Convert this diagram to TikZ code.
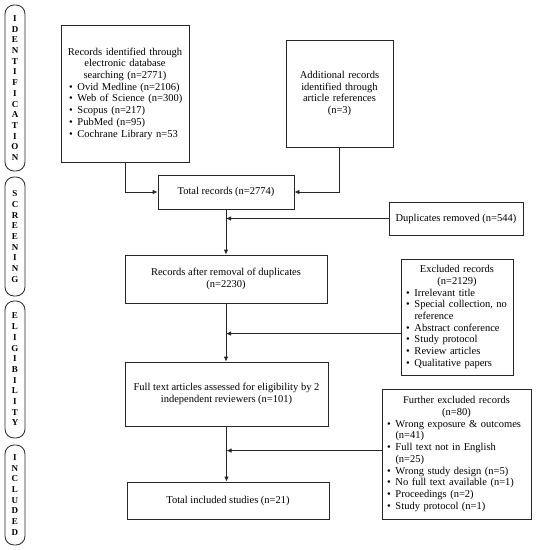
\documentclass[tikz,border=0pt]{standalone}
\usepackage{fontspec}
\setmainfont{Liberation Serif}
\usetikzlibrary{arrows.meta,calc}
\newlength{\bind}
\setlength{\bind}{8.5pt}
\newcommand{\bitem}[1]{\par\noindent\hangindent=\bind\hangafter=1\makebox[\bind][l]{\textbullet}#1}
\begin{document}
\begin{tikzpicture}[x=1pt,y=-1pt,
  box/.style={draw=black!85,line width=0.8pt,inner sep=0pt,font=\fontsize{10.5}{11.7}\selectfont},
  side/.style={draw=black!85,line width=0.8pt,rounded corners=9pt,minimum width=20pt,inner sep=0pt,align=center,font=\fontsize{9}{10.7}\selectfont\bfseries},
  arr/.style={draw=black!85,line width=0.8pt,-{Latex[length=5pt,width=4.5pt]}},
  ln/.style={draw=black!85,line width=0.8pt}]
\useasboundingbox (0,0) rectangle (536,550);
% side labels
\node[side,minimum height=166pt] (sid) at (15,88) {I\\D\\E\\N\\T\\I\\F\\I\\C\\A\\T\\I\\O\\N};
\node[side,minimum height=119pt] (sscr) at (15,236.5) {S\\C\\R\\E\\E\\N\\I\\N\\G};
\node[side,minimum height=137pt] (selig) at (15,369.5) {E\\L\\I\\G\\I\\B\\I\\L\\I\\T\\Y};
\node[side,minimum height=100pt] (sincl) at (15,495) {I\\N\\C\\L\\U\\D\\E\\D};
% boxes
\node[box,minimum width=128pt,minimum height=137pt,text width=116pt] (A) at (125,93.5)
 {\centering Records identified through\\electronic database\\searching (n=2771)\par\raggedright\leftskip=2pt
  \bitem{Ovid Medline (n=2106)}\bitem{Web of Science (n=300)}\bitem{Scopus (n=217)}\bitem{PubMed (n=95)}\bitem{Cochrane Library n=53}\par};
\node[box,minimum width=107pt,minimum height=107pt,text width=100pt,align=center] (B) at (339.5,93.5)
 {Additional records\\identified through\\article references\\(n=3)};
\node[box,minimum width=136pt,minimum height=34pt] (total) at (226,192) {Total records (n=2774)};
\node[box,minimum width=134pt,minimum height=33pt] (dup) at (456,218.5) {Duplicates removed (n=544)};
\node[box,minimum width=202pt,minimum height=48pt,align=center] (rec) at (226,279) {Records after removal of duplicates\\(n=2230)};
\node[box,minimum width=112pt,minimum height=116pt,text width=106pt] (excl) at (457,317)
 {\centering Excluded records\\(n=2129)\par\raggedright\leftskip=2pt
  \bitem{Irrelevant title}\bitem{Special collection, no\newline reference}\bitem{Abstract conference}\bitem{Study protocol}\bitem{Review articles}\bitem{Qualitative papers}\par};
\node[box,minimum width=203pt,minimum height=64pt,align=center] (full) at (226.5,394) {Full text articles assessed for eligibility by 2\\independent reviewers (n=101)};
\node[box,minimum width=149pt,minimum height=130pt,text width=143pt] (further) at (456.5,454)
 {\centering Further excluded records\\(n=80)\par\raggedright\leftskip=2pt
  \bitem{Wrong exposure \& outcomes\newline (n=41)}\bitem{Full text not in English\newline (n=25)}\bitem{Wrong study design (n=5)}\bitem{No full text available (n=1)}\bitem{Proceedings (n=2)}\bitem{Study protocol (n=1)}\par};
\node[box,minimum width=202pt,minimum height=37pt] (incl) at (228,500.5) {Total included studies (n=21)};
% connectors
\draw[arr] (A.south) |- (total.west);
\draw[arr] (B.south) |- (total.east);
\draw[arr] (total.south) -- (total.south |- rec.north);
\draw[arr] (dup.west) -- (dup.west -| total.south);
\draw[arr] (rec.south) -- (rec.south |- full.north);
\coordinate (exin) at ($(excl.north west)+(0,75)$);
\draw[arr] (exin) -- (exin -| rec.south);
\draw[arr] (full.south) -- (full.south |- incl.north);
\coordinate (fuin) at ($(further.north west)+(0,62)$);
\draw[arr] (fuin) -- (fuin -| full.south);
\end{tikzpicture}
\end{document}
